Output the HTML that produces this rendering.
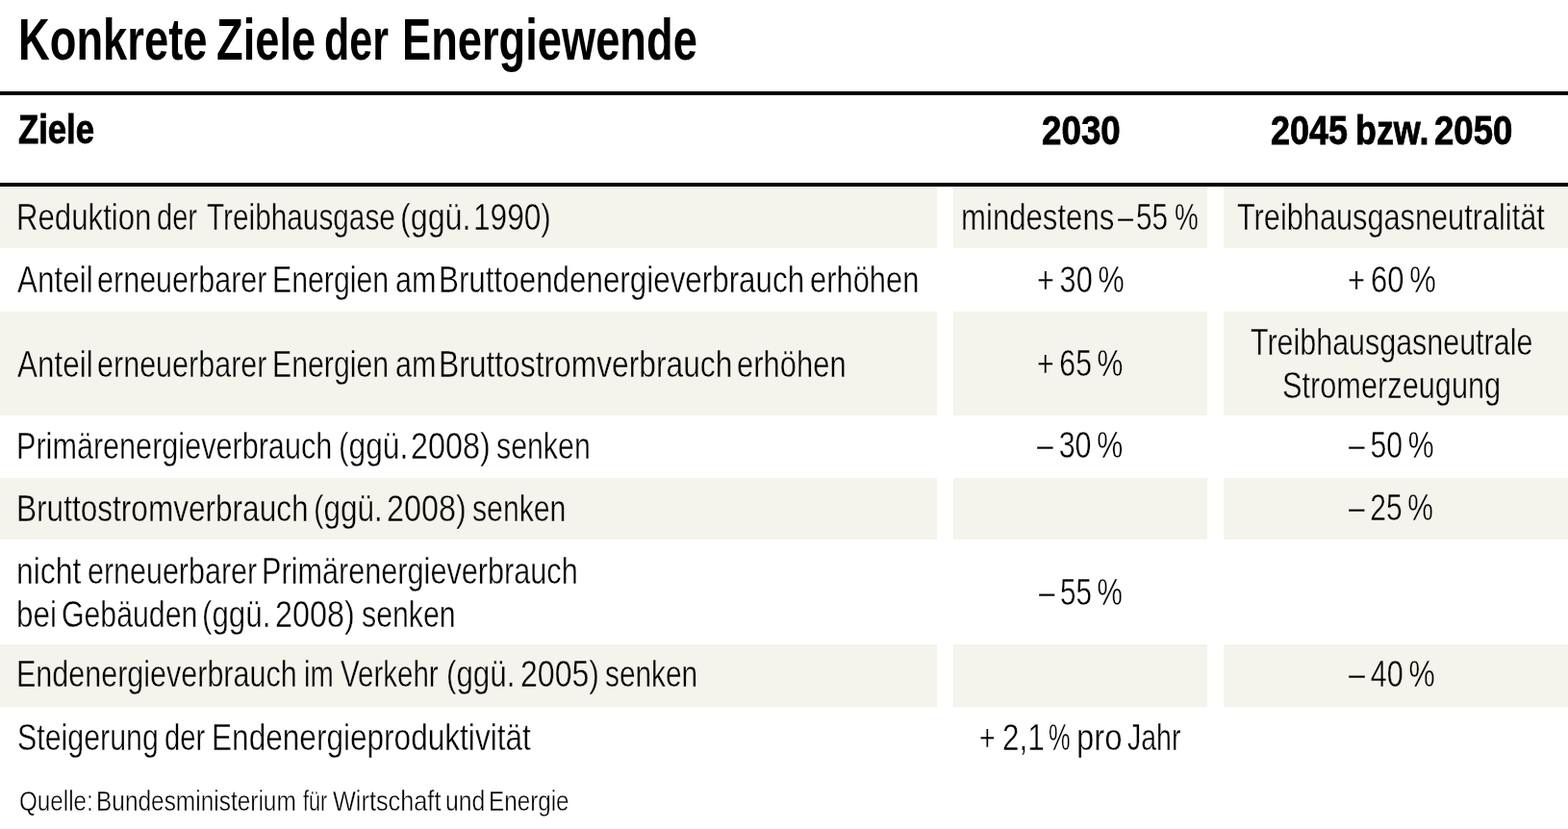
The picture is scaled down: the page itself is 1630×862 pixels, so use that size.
<!DOCTYPE html>
<html lang="de"><head><meta charset="utf-8"><title>Konkrete Ziele der Energiewende</title>
<style>
html,body{margin:0;padding:0;background:#fff}
body{width:1630px;height:862px;position:relative;overflow:hidden;font-family:"Liberation Sans",sans-serif;color:#000}
.bg{position:absolute;background:#f4f3ec}
.ln{position:absolute;left:0;width:1630px;background:#000}
.l{position:absolute;left:0;top:0;margin:0;white-space:nowrap}
.l span{position:absolute;white-space:nowrap;transform-origin:0 0;line-height:1;display:block}
.t span{font-size:61.3px;font-weight:700;word-spacing:-0.06em}
.h span{font-size:41.9px;font-weight:700;-webkit-text-stroke:0.8px #000;word-spacing:-0.05em}
.b span{font-size:39.6px;font-weight:400;word-spacing:-0.09em}
.s span{font-size:29.6px;font-weight:400;word-spacing:-0.13em}
.w span{-webkit-text-stroke:0.4px #fff}
.g span{-webkit-text-stroke:0.4px #f4f3ec}
</style></head>
<body>
<div class="bg" style="left:0px;top:193.8px;width:974.0px;height:64.3px"></div>
<div class="bg" style="left:991.3px;top:193.8px;width:264.1px;height:64.3px"></div>
<div class="bg" style="left:1272px;top:193.8px;width:358.0px;height:64.3px"></div>
<div class="bg" style="left:0px;top:323.8px;width:974.0px;height:107.9px"></div>
<div class="bg" style="left:991.3px;top:323.8px;width:264.1px;height:107.9px"></div>
<div class="bg" style="left:1272px;top:323.8px;width:358.0px;height:107.9px"></div>
<div class="bg" style="left:0px;top:497.2px;width:974.0px;height:63.9px"></div>
<div class="bg" style="left:991.3px;top:497.2px;width:264.1px;height:63.9px"></div>
<div class="bg" style="left:1272px;top:497.2px;width:358.0px;height:63.9px"></div>
<div class="bg" style="left:0px;top:669.9px;width:974.0px;height:64.7px"></div>
<div class="bg" style="left:991.3px;top:669.9px;width:264.1px;height:64.7px"></div>
<div class="bg" style="left:1272px;top:669.9px;width:358.0px;height:64.7px"></div>
<div class="ln" style="top:95.4px;height:3.6px"></div>
<div class="ln" style="top:190.1px;height:3.7px"></div>
<h1 class="l t"><span style="left:18.97px;top:10.51px;transform:scaleX(0.7394)">Konkrete</span> <span style="left:224.89px;top:10.51px;transform:scaleX(0.7383)">Ziele</span> <span style="left:336.86px;top:10.51px;transform:scaleX(0.7008)">der</span> <span style="left:418.47px;top:10.51px;transform:scaleX(0.7383)">Energiewende</span></h1>
<div class="l h"><span style="left:18.99px;top:114.13px;transform:scaleX(0.8278)">Ziele</span></div>
<div class="l h"><span style="left:1082.60px;top:114.53px;transform:scaleX(0.8780)">2030</span></div>
<div class="l h"><span style="left:1321.32px;top:114.53px;transform:scaleX(0.8597)">2045</span> <span style="left:1408.50px;top:114.53px;transform:scaleX(0.8560)">bzw.</span> <span style="left:1490.61px;top:114.53px;transform:scaleX(0.8736)">2050</span></div>
<div class="l b g"><span style="left:17.40px;top:205.68px;transform:scaleX(0.7880)">Reduktion</span> <span style="left:162.95px;top:205.68px;transform:scaleX(0.7328)">der</span> <span style="left:215.38px;top:205.68px;transform:scaleX(0.7523)">Treibhausgase</span> <span style="left:415.52px;top:205.68px;transform:scaleX(0.8149)">(ggü.</span> <span style="left:491.86px;top:205.68px;transform:scaleX(0.7991)">1990)</span></div>
<div class="l b g"><span style="left:998.89px;top:205.68px;transform:scaleX(0.7873)">mindestens</span> <span style="left:1162.45px;top:205.68px;transform:scaleX(0.7314)">–</span> <span style="left:1181.22px;top:205.68px;transform:scaleX(0.7524)">55</span> <span style="left:1220.69px;top:205.68px;transform:scaleX(0.7038)">%</span></div>
<div class="l b g"><span style="left:1286.46px;top:205.68px;transform:scaleX(0.7760)">Treibhausgasneutralität</span></div>
<div class="l b w"><span style="left:18.34px;top:270.68px;transform:scaleX(0.7944)">Anteil</span> <span style="left:100.89px;top:270.68px;transform:scaleX(0.7714)">erneuerbarer</span> <span style="left:282.68px;top:270.68px;transform:scaleX(0.7644)">Energien</span> <span style="left:411.19px;top:270.68px;transform:scaleX(0.7735)">am</span> <span style="left:456.19px;top:270.68px;transform:scaleX(0.7925)">Bruttoendenergieverbrauch</span> <span style="left:841.78px;top:270.68px;transform:scaleX(0.7811)">erhöhen</span></div>
<div class="l b w"><span style="left:1077.91px;top:270.68px;transform:scaleX(0.7731)">+ 30 %</span></div>
<div class="l b w"><span style="left:1400.59px;top:270.68px;transform:scaleX(0.7828)">+ 60 %</span></div>
<div class="l b g"><span style="left:18.34px;top:358.68px;transform:scaleX(0.7944)">Anteil</span> <span style="left:100.89px;top:358.68px;transform:scaleX(0.7714)">erneuerbarer</span> <span style="left:282.68px;top:358.68px;transform:scaleX(0.7644)">Energien</span> <span style="left:411.19px;top:358.68px;transform:scaleX(0.7735)">am</span> <span style="left:456.16px;top:358.68px;transform:scaleX(0.8026)">Bruttostromverbrauch</span> <span style="left:766.08px;top:358.68px;transform:scaleX(0.7825)">erhöhen</span></div>
<div class="l b g"><span style="left:1078.23px;top:358.48px;transform:scaleX(0.7635)">+ 65 %</span></div>
<div class="l b g"><span style="left:1300.27px;top:335.58px;transform:scaleX(0.7692)">Treibhausgasneutrale</span></div>
<div class="l b g"><span style="left:1333.18px;top:381.08px;transform:scaleX(0.7764)">Stromerzeugung</span></div>
<div class="l b w"><span style="left:17.45px;top:443.68px;transform:scaleX(0.7731)">Primärenergieverbrauch</span> <span style="left:351.55px;top:443.68px;transform:scaleX(0.8007)">(ggü.</span> <span style="left:427.12px;top:443.68px;transform:scaleX(0.8167)">2008)</span> <span style="left:516.17px;top:443.68px;transform:scaleX(0.7658)">senken</span></div>
<div class="l b w"><span style="left:1078.45px;top:443.28px;transform:scaleX(0.7689)">– 30 %</span></div>
<div class="l b w"><span style="left:1402.05px;top:443.28px;transform:scaleX(0.7628)">– 50 %</span></div>
<div class="l b g"><span style="left:17.37px;top:508.68px;transform:scaleX(0.7978)">Bruttostromverbrauch</span> <span style="left:326.36px;top:508.68px;transform:scaleX(0.7960)">(ggü.</span> <span style="left:402.32px;top:508.68px;transform:scaleX(0.8167)">2008)</span> <span style="left:491.38px;top:508.68px;transform:scaleX(0.7633)">senken</span></div>
<div class="l b g"><span style="left:1402.05px;top:508.28px;transform:scaleX(0.7576)">– 25 %</span></div>
<div class="l b w"><span style="left:17.44px;top:573.58px;transform:scaleX(0.8059)">nicht</span> <span style="left:90.89px;top:573.58px;transform:scaleX(0.7697)">erneuerbarer</span> <span style="left:272.25px;top:573.58px;transform:scaleX(0.7743)">Primärenergieverbrauch</span></div>
<div class="l b w"><span style="left:17.48px;top:618.58px;transform:scaleX(0.7939)">bei</span> <span style="left:64.43px;top:618.58px;transform:scaleX(0.7646)">Gebäuden</span> <span style="left:210.37px;top:618.58px;transform:scaleX(0.7912)">(ggü.</span> <span style="left:286.32px;top:618.58px;transform:scaleX(0.8167)">2008)</span> <span style="left:376.17px;top:618.58px;transform:scaleX(0.7650)">senken</span></div>
<div class="l b w"><span style="left:1079.65px;top:595.78px;transform:scaleX(0.7488)">– 55 %</span></div>
<div class="l b g"><span style="left:17.46px;top:681.28px;transform:scaleX(0.7706)">Endenergieverbrauch</span> <span style="left:315.83px;top:681.28px;transform:scaleX(0.7379)">im</span> <span style="left:353.95px;top:681.28px;transform:scaleX(0.7455)">Verkehr</span> <span style="left:463.67px;top:681.28px;transform:scaleX(0.7912)">(ggü.</span> <span style="left:540.83px;top:681.28px;transform:scaleX(0.8105)">2005)</span> <span style="left:629.48px;top:681.28px;transform:scaleX(0.7537)">senken</span></div>
<div class="l b g"><span style="left:1401.75px;top:681.08px;transform:scaleX(0.7724)">– 40 %</span></div>
<div class="l b w"><span style="left:18.40px;top:746.68px;transform:scaleX(0.7667)">Steigerung</span> <span style="left:171.44px;top:746.68px;transform:scaleX(0.7382)">der</span> <span style="left:219.87px;top:746.68px;transform:scaleX(0.7979)">Endenergieproduktivität</span></div>
<div class="l b w"><span style="left:1018.43px;top:746.88px;transform:scaleX(0.7165)">+</span> <span style="left:1042.17px;top:746.88px;transform:scaleX(0.7951)">2,1</span> <span style="left:1089.88px;top:746.88px;transform:scaleX(0.6421)">%</span> <span style="left:1119.27px;top:746.88px;transform:scaleX(0.8322)">pro</span> <span style="left:1172.01px;top:746.88px;transform:scaleX(0.7201)">Jahr</span></div>
<p class="l s w"><span style="left:19.90px;top:817.94px;transform:scaleX(0.8184)">Quelle:</span> <span style="left:99.83px;top:817.94px;transform:scaleX(0.8256)">Bundesministerium</span> <span style="left:314.75px;top:817.94px;transform:scaleX(0.7294)">für</span> <span style="left:345.93px;top:817.94px;transform:scaleX(0.8547)">Wirtschaft</span> <span style="left:463.08px;top:817.94px;transform:scaleX(0.8378)">und</span> <span style="left:507.64px;top:817.94px;transform:scaleX(0.8195)">Energie</span></p>
</body></html>
